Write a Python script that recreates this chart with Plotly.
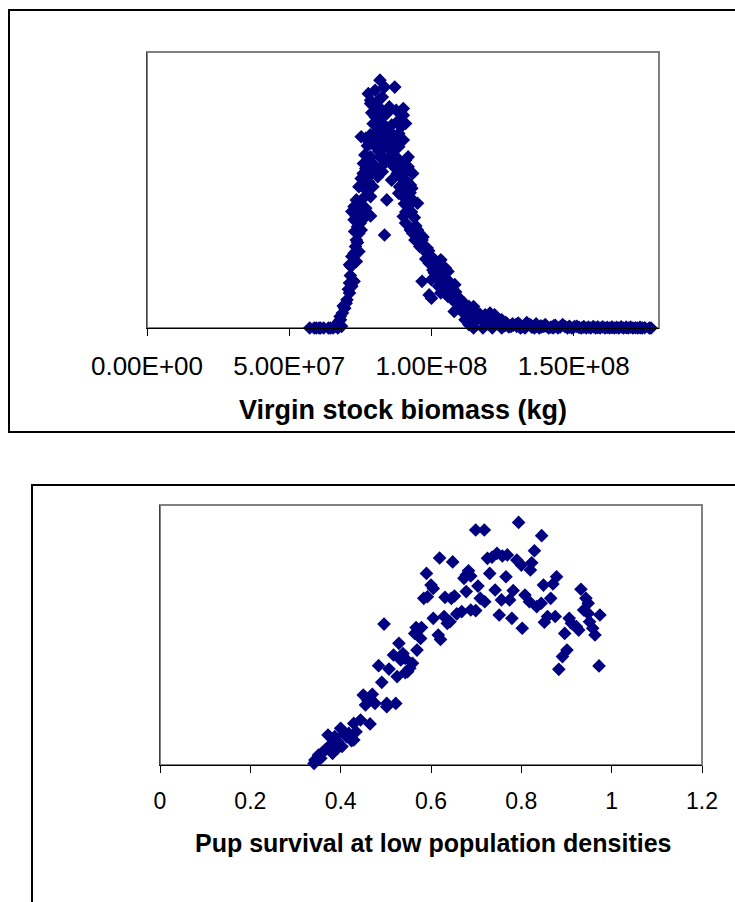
import plotly.graph_objects as go

# ---------------- Data ----------------
# Top chart: virgin stock biomass (kg, in millions) vs relative frequency (no y labels)
biomass_mkg = [
    57.2, 58.8, 60.5, 62.1, 63.8, 65.4, 67.1, 68.4, 67.4, 67.9, 68.7, 69.5, 70.0, 70.3,
    71.2, 72.0, 71.2, 72.8, 71.7, 72.3, 71.2, 73.6, 72.0, 72.8, 74.5, 73.3, 73.6, 74.5,
    75.3, 74.0, 72.8, 73.6, 75.3, 76.9, 78.6, 72.0, 74.5, 72.8, 75.3, 73.6, 76.9, 78.6,
    74.5, 76.1, 77.8, 75.3, 78.6, 76.9, 76.1, 77.8, 76.6, 78.6, 80.2, 81.1, 79.4, 82.7,
    81.9, 83.5, 84.3, 83.5, 76.9, 75.3, 80.2, 79.4, 81.1, 82.7, 81.9, 83.5, 85.2, 86.8,
    86.0, 88.5, 87.6, 82.7, 80.2, 84.3, 81.5, 77.8, 78.6, 80.2, 82.7, 85.2, 87.6, 88.5,
    90.1, 89.3, 90.9, 86.0, 83.5, 81.9, 87.1, 78.6, 90.1, 88.5, 87.6, 90.1, 86.8, 89.3,
    88.8, 90.1, 88.5, 86.0,
    91.8, 93.4, 90.9, 91.8, 92.6, 93.1, 91.8, 93.4, 95.1, 91.8, 90.1, 90.9, 92.6, 93.4,
    95.1, 96.7, 94.2, 95.9, 97.5, 98.4, 100.0, 99.2, 101.6, 103.3, 104.9, 96.7, 100.0,
    102.5, 104.1, 105.8, 102.5, 103.3, 99.2, 100.0, 104.9, 106.6, 108.2, 105.8, 107.4,
    109.1, 109.9, 111.5, 113.2, 114.8, 110.7, 112.4, 114.0, 115.7, 117.3, 118.9, 120.6,
    122.2, 119.8, 123.1, 124.7, 126.4, 113.2, 114.8, 118.1, 121.4, 124.7, 128.0, 129.7,
    131.3, 132.9, 134.6, 136.2, 137.9, 139.5, 141.2, 142.8, 144.5, 146.1, 147.8, 149.4,
    151.1, 152.7, 154.4, 156.0, 157.7, 159.3, 161.0, 162.6, 164.3, 165.9, 167.5, 169.2,
    170.8, 172.5, 174.1, 176.6,
    97.0, 98.0, 99.0, 101.0, 102.0, 103.0, 104.0, 106.0, 107.0, 108.0, 110.0, 112.0,
    116.0, 118.0, 121.0, 125.0, 127.0, 130.5, 133.5, 136.8, 140.0, 143.5,
    79.0, 80.5, 82.0, 83.0, 84.5, 86.5, 88.0, 79.5, 81.0, 82.5, 84.0, 85.5, 87.0, 77.5,
    78.5, 80.0, 81.5, 83.0, 88.0, 89.0, 90.5, 91.5, 92.5, 89.5, 90.5, 91.0, 93.0, 94.0,
    94.5, 96.0, 97.0, 95.5, 98.5, 99.5, 100.5, 101.5, 100.5, 102.0, 103.5, 105.0, 106.0,
    107.5, 108.5, 109.5, 110.5, 111.5, 113.0, 115.0, 117.0, 119.0, 121.0, 123.0, 126.0,
    128.5, 131.0, 135.0, 138.5, 143.0, 148.5, 153.5, 158.5, 163.5, 168.5, 173.5,
    73.0, 74.0, 75.0, 74.0, 76.0, 77.0, 76.0, 77.5, 78.0, 79.0, 71.5, 70.8, 69.0, 68.0,
    66.0, 64.5, 61.0, 59.5,
    125.8, 127.2, 128.8, 130.0, 131.8, 133.3, 135.3, 136.9, 138.7, 140.4, 142.0, 143.8,
    145.3, 146.9, 148.6, 150.3, 151.9, 153.6, 155.2, 156.9, 158.4, 160.2, 161.8, 163.4,
    165.1, 166.7, 168.4, 170.0, 171.7, 173.3, 175.0, 177.2,
    105.5, 107.0, 109.0, 111.0, 113.8, 116.5, 119.5, 122.5, 108.0, 111.8, 115.2, 120.0,
]
biomass_freq = [
    0.000, 0.000, 0.000, 0.000, 0.000, 0.000, 0.000, 0.006, 0.024, 0.042, 0.054, 0.072, 0.090, 0.102,
    0.127, 0.151, 0.163, 0.169, 0.223, 0.235, 0.229, 0.241, 0.259, 0.271, 0.277, 0.295, 0.319, 0.343,
    0.355, 0.367, 0.392, 0.404, 0.404, 0.404, 0.406, 0.422, 0.428, 0.440, 0.446, 0.464, 0.434, 0.476,
    0.512, 0.512, 0.530, 0.542, 0.560, 0.578, 0.596, 0.608, 0.627, 0.620, 0.584, 0.548, 0.512, 0.566,
    0.620, 0.596, 0.464, 0.337, 0.687, 0.693, 0.705, 0.675, 0.669, 0.681, 0.729, 0.711, 0.693, 0.669,
    0.639, 0.657, 0.620, 0.789, 0.765, 0.777, 0.825, 0.849, 0.825, 0.861, 0.837, 0.801, 0.789, 0.753,
    0.771, 0.729, 0.741, 0.735, 0.873, 0.898, 0.873, 0.813, 0.795, 0.705, 0.693, 0.681, 0.584, 0.584,
    0.512, 0.476, 0.488, 0.536,
    0.620, 0.560, 0.608, 0.584, 0.518, 0.506, 0.464, 0.464, 0.452, 0.440, 0.404, 0.380, 0.355, 0.343,
    0.355, 0.319, 0.319, 0.295, 0.289, 0.271, 0.259, 0.235, 0.223, 0.247, 0.217, 0.169, 0.175,
    0.187, 0.187, 0.205, 0.151, 0.127, 0.120, 0.108, 0.139, 0.151, 0.157, 0.114, 0.102,
    0.096, 0.084, 0.090, 0.078, 0.078, 0.060, 0.048, 0.042, 0.054, 0.042, 0.048, 0.054,
    0.048, 0.030, 0.024, 0.030, 0.018, 0.012, 0.000, 0.000, 0.000, 0.000, 0.006, 0.012,
    0.000, 0.000, 0.012, 0.000, 0.000, 0.006, 0.000, 0.000, 0.000, 0.012, 0.000, 0.000,
    0.006, 0.000, 0.000, 0.000, 0.000, 0.000, 0.000, 0.000, 0.000, 0.000, 0.000, 0.000,
    0.000, 0.000, 0.000, 0.000,
    0.300, 0.250, 0.280, 0.200, 0.210, 0.170, 0.160, 0.130, 0.120, 0.110, 0.070, 0.065,
    0.035, 0.030, 0.025, 0.010, 0.010, 0.018, 0.020, 0.015, 0.012, 0.010,
    0.780, 0.800, 0.760, 0.740, 0.720, 0.700, 0.680, 0.740, 0.710, 0.700, 0.660, 0.620, 0.600, 0.660,
    0.700, 0.660, 0.640, 0.620, 0.560, 0.550, 0.560, 0.530, 0.490, 0.500, 0.450, 0.420, 0.420, 0.400,
    0.370, 0.340, 0.330, 0.310, 0.290, 0.260, 0.250, 0.240, 0.210, 0.190, 0.200, 0.180, 0.170,
    0.140, 0.130, 0.110, 0.100, 0.080, 0.065, 0.060, 0.050, 0.040, 0.035, 0.030, 0.020,
    0.015, 0.012, 0.010, 0.008, 0.008, 0.006, 0.004, 0.003, 0.002, 0.002, 0.001,
    0.350, 0.310, 0.380, 0.450, 0.470, 0.500, 0.560, 0.580, 0.550, 0.600, 0.190, 0.140, 0.080, 0.030,
    0.005, 0.000, 0.000, 0.000,
    0.008, 0.004, 0.010, 0.006, 0.004, 0.008, 0.003, 0.006, 0.004, 0.007, 0.003, 0.005,
    0.004, 0.006, 0.003, 0.005, 0.002, 0.004, 0.003, 0.005, 0.002, 0.004, 0.002, 0.003,
    0.002, 0.004, 0.002, 0.003, 0.001, 0.002, 0.001, 0.000,
    0.140, 0.120, 0.100, 0.070, 0.055, 0.045, 0.035, 0.030, 0.060, 0.030, 0.020, 0.015,
]

# Bottom chart: pup survival at low population densities vs relative frequency
pup_survival = [
    0.794, 0.699, 0.718, 0.845, 0.829, 0.619, 0.648, 0.725, 0.735, 0.746, 0.758, 0.769,
    0.790, 0.800, 0.823, 0.820, 0.590, 0.683, 0.678, 0.673, 0.688, 0.730, 0.766, 0.878,
    0.870, 0.849, 0.600, 0.605, 0.704, 0.742, 0.782, 0.932, 0.584, 0.592, 0.631, 0.645,
    0.652, 0.678, 0.709, 0.719, 0.756, 0.774, 0.808, 0.818, 0.834, 0.844, 0.865, 0.943,
    0.948, 0.688, 0.668, 0.657, 0.699, 0.751, 0.779, 0.875, 0.858, 0.851, 0.938, 0.948,
    0.974, 0.605, 0.629, 0.642, 0.636, 0.802, 0.906, 0.911, 0.922, 0.927, 0.896, 0.951,
    0.958, 0.963, 0.496, 0.567, 0.579, 0.564, 0.577, 0.569, 0.616, 0.621, 0.529, 0.901,
    0.891, 0.883, 0.972, 0.517, 0.538, 0.543, 0.533, 0.484, 0.507, 0.559, 0.553, 0.548,
    0.543, 0.525, 0.491, 0.450, 0.470, 0.460, 0.476, 0.455, 0.502, 0.522, 0.502, 0.444,
    0.429, 0.465, 0.434, 0.418, 0.372, 0.387, 0.400, 0.408, 0.413, 0.393, 0.377, 0.403,
    0.424, 0.429, 0.367, 0.382, 0.393, 0.361, 0.351, 0.356, 0.343, 0.341,
]
pup_freq = [
    0.933, 0.904, 0.904, 0.882, 0.824, 0.796, 0.781, 0.795, 0.799, 0.814, 0.804, 0.808,
    0.788, 0.769, 0.778, 0.750, 0.737, 0.747, 0.731, 0.718, 0.727, 0.737, 0.724, 0.724,
    0.696, 0.692, 0.692, 0.679, 0.688, 0.673, 0.671, 0.676, 0.641, 0.647, 0.645, 0.641,
    0.650, 0.667, 0.641, 0.628, 0.635, 0.635, 0.654, 0.628, 0.609, 0.622, 0.641, 0.641,
    0.622, 0.596, 0.590, 0.581, 0.594, 0.577, 0.564, 0.571, 0.571, 0.549, 0.596, 0.583,
    0.577, 0.564, 0.571, 0.551, 0.545, 0.526, 0.564, 0.545, 0.532, 0.519, 0.506, 0.551,
    0.526, 0.500, 0.542, 0.529, 0.529, 0.506, 0.487, 0.442, 0.500, 0.483, 0.468, 0.442,
    0.417, 0.368, 0.381, 0.423, 0.429, 0.410, 0.404, 0.382, 0.369, 0.391, 0.372, 0.359,
    0.355, 0.340, 0.318, 0.269, 0.272, 0.250, 0.237, 0.231, 0.224, 0.237, 0.237, 0.173,
    0.160, 0.158, 0.128, 0.122, 0.115, 0.109, 0.141, 0.122, 0.109, 0.090, 0.077, 0.071,
    0.094, 0.096, 0.060, 0.045, 0.064, 0.051, 0.038, 0.026, 0.019, 0.006,
]

top_tickvals = [0, 5e7, 1e8, 1.5e8]
top_ticktext = ["0.00E+00", "5.00E+07", "1.00E+08", "1.50E+08"]
bot_tickvals = [0, 0.2, 0.4, 0.6, 0.8, 1.0, 1.2]
bot_ticktext = ["0", "0.2", "0.4", "0.6", "0.8", "1", "1.2"]

# ---------------- Figure ----------------
W, H = 735, 902
NAVY = "#000080"
FONT = "Arial, Liberation Sans, Helvetica, sans-serif"

fig = go.Figure()
fig.add_trace(go.Scatter(
    x=[v * 1e6 for v in biomass_mkg], y=biomass_freq, mode="markers",
    marker=dict(symbol="diamond", size=10.5, color=NAVY, line=dict(width=0)),
    xaxis="x", yaxis="y", cliponaxis=False, showlegend=False, hoverinfo="skip"))
fig.add_trace(go.Scatter(
    x=pup_survival, y=pup_freq, mode="markers",
    marker=dict(symbol="diamond", size=10.5, color=NAVY, line=dict(width=0)),
    xaxis="x2", yaxis="y2", cliponaxis=False, showlegend=False, hoverinfo="skip"))

def px_x(p):
    return p / W

def px_y(p):
    return 1 - p / H

common_x = dict(showgrid=False, zeroline=False, showline=True, linecolor="black", linewidth=1,
                ticks="outside", ticklen=7, tickcolor="black", tickwidth=1, fixedrange=True,
                automargin=False)
common_y = dict(showgrid=False, zeroline=False, showline=True, linecolor="#404040", linewidth=1,
                showticklabels=False, ticks="", fixedrange=True, automargin=False)

fig.update_layout(
    width=W, height=H, margin=dict(l=0, r=0, t=0, b=0, pad=0, autoexpand=False),
    paper_bgcolor="white", plot_bgcolor="white",
    font=dict(family=FONT, color="black"),
    xaxis=dict(domain=[px_x(147), px_x(659)], range=[0, 1.8e8], tickmode="array",
               tickvals=top_tickvals, ticktext=top_ticktext, anchor="y",
               tickfont=dict(size=26, family=FONT, color="black"), ticklabelstandoff=8, **common_x),
    yaxis=dict(domain=[px_y(328), px_y(52)], range=[0, 1.0], anchor="x", **common_y),
    xaxis2=dict(domain=[px_x(160), px_x(702)], range=[0, 1.2], tickmode="array",
                tickvals=bot_tickvals, ticktext=bot_ticktext, anchor="y2",
                tickfont=dict(size=23, family=FONT, color="black"), ticklabelstandoff=8, **common_x),
    yaxis2=dict(domain=[px_y(765), px_y(505)], range=[0, 1.0], anchor="x2", **common_y),
)

shapes = [
    # plot-area borders (gray, top/right)
    dict(type="rect", xref="x domain", yref="y domain", x0=0, x1=1, y0=0, y1=1,
         line=dict(color="#808080", width=2), layer="below"),
    dict(type="rect", xref="x2 domain", yref="y2 domain", x0=0, x1=1, y0=0, y1=1,
         line=dict(color="#808080", width=2), layer="below"),
    # outer chart frames
    dict(type="rect", xref="paper", yref="paper", x0=px_x(9), x1=1.05, y0=px_y(432), y1=px_y(10),
         line=dict(color="black", width=2), layer="below"),
    dict(type="rect", xref="paper", yref="paper", x0=px_x(32), x1=1.05, y0=-0.05, y1=px_y(485),
         line=dict(color="black", width=2), layer="below"),
]
fig.update_layout(shapes=shapes)

fig.add_annotation(x=px_x(403), y=px_y(410), xref="paper", yref="paper",
                   text="<b>Virgin stock biomass (kg)</b>", showarrow=False,
                   xanchor="center", yanchor="middle",
                   font=dict(size=27, family=FONT, color="black"))
fig.add_annotation(x=px_x(433), y=px_y(843), xref="paper", yref="paper",
                   text="<b>Pup survival at low population densities</b>", showarrow=False,
                   xanchor="center", yanchor="middle",
                   font=dict(size=25, family=FONT, color="black"))

fig.write_html("out.html")
